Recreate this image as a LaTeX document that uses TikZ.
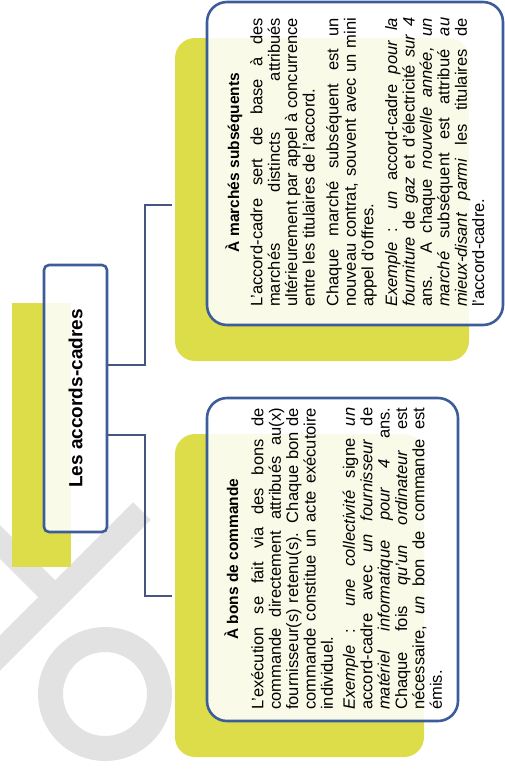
\documentclass[tikz,border=0pt]{standalone}
\usepackage{fontspec}
\setmainfont{Liberation Sans}
\definecolor{jaune}{RGB}{221,221,74}
\definecolor{bleu}{RGB}{61,92,154}
\definecolor{trait}{RGB}{70,86,128}
\definecolor{filigrane}{RGB}{226,226,226}
\tolerance=10000
\hbadness=10000

\begin{document}
\begin{tikzpicture}[x=1pt,y=-1pt,
  ombre/.style={fill=jaune, rotate=90, inner sep=0pt},
  cadre/.style={draw=bleu, line width=2.6pt, fill=white, fill opacity=.88, text opacity=1, rotate=90, inner sep=0pt},
  lien/.style={draw=trait, line width=2.6pt},
  titre/.style={rotate=90, anchor=base, inner sep=0pt, font=\bfseries\fontsize{15.5}{18}\selectfont},
  corps/.style={rotate=90, anchor=north west, inner sep=0pt, align=justify, font=\fontsize{16.5}{17.4}\selectfont}]

\useasboundingbox (0,0) rectangle (504,769);

% filigrane
\draw[filigrane, line width=25pt] (142,511) -- (-10,663);
\draw[filigrane, line width=24pt] (-20,522) -- (48,590);
\draw[filigrane, line width=25pt] (105,694) circle (54.5);

% ombres
\node[ombre, minimum width=264, minimum height=59] at (41.5,435) {};
\node[ombre, minimum width=323, minimum height=294, rounded corners=20pt] at (322,199.5) {};
\node[ombre, minimum width=323, minimum height=249, rounded corners=20pt] at (299.5,595.5) {};

% cadres
\node[cadre, minimum width=267, minimum height=63, rounded corners=5pt] (racine) at (75.5,398.5)
  {\fontsize{19}{22}\selectfont\bfseries Les accords-cadres};
\node[cadre, minimum width=323, minimum height=296, rounded corners=20pt] (marches) at (355,163.5) {};
\node[cadre, minimum width=323, minimum height=251, rounded corners=20pt] (bons) at (332.5,559.5) {};

% liens
\coordinate (bus) at (145,400);
\coordinate (departA) at ([yshift=33.5pt]racine.south);
\coordinate (departB) at ([yshift=-36.5pt]racine.south);
\coordinate (versA) at (172,205);
\coordinate (versB) at (172,596);
\draw[lien] (departA) -- (departA -| bus) |- (versA);
\draw[lien] (departB) -- (departB -| bus) |- (versB);

% textes
\node[titre] (titreA) at (239,162.5) {À marchés subséquents};
\node[corps, text width=289] (texteA) at (250,307) {\setlength{\parskip}{6.5pt}%
L'accord-cadre sert de base à des\linebreak
marchés distincts attribués\linebreak
ultérieurement par appel à concurrence\linebreak
entre les titulaires de l'accord.\par
Chaque marché subséquent est un\linebreak
nouveau contrat, souvent avec un mini\linebreak
appel d'offres.\par
\textit{Exemple} : \textit{un} accord-cadre \textit{pour la}\linebreak
\textit{fourniture} de \textit{gaz} et d'électricité \textit{sur 4}\linebreak
ans. A chaque \textit{nouvelle année, un}\linebreak
\textit{marché} subséquent est attribué \textit{au}\linebreak
\textit{mieux-disant parmi} les titulaires de\linebreak
l'accord-cadre.};

\node[titre] (titreB) at (238,559) {À bons de commande};
\node[corps, text width=302] (texteB) at (251,710) {\setlength{\parskip}{4.5pt}%
L'exécution se fait via des bons de\linebreak
commande directement attribués au(x)\linebreak
fournisseur(s) retenu(s). Chaque bon de\linebreak
commande constitue un acte exécutoire\linebreak
individuel.\par
\textit{Exemple} : \textit{une collectivité} signe \textit{un}\linebreak
accord-cadre avec \textit{un fournisseur} de\linebreak
\textit{matériel informatique pour 4} ans.\linebreak
Chaque fois \textit{qu'un ordinateur} est\linebreak
nécessaire, \textit{un} bon de commande est\linebreak
émis.};

\end{tikzpicture}
\end{document}
